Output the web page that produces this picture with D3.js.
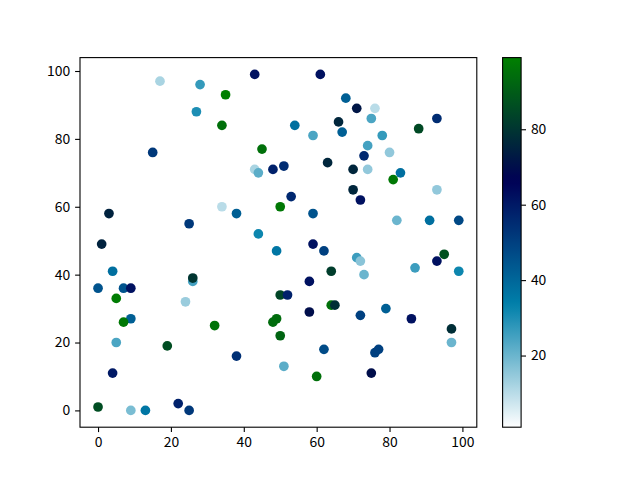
<!DOCTYPE html>
<html>
<head>
<meta charset="utf-8">
<script src="https://cdn.jsdelivr.net/npm/d3@7"></script>
<style>
  body { margin: 0; background: #fff; }
  text { font-family: "Noto Sans CJK SC", "Liberation Sans", sans-serif; font-size: 13.9px; fill: #000; }
</style>
</head>
<body>
<svg id="chart"></svg>
<script>
// data
const xs = [17, 28, 27, 15, 3, 20, 25, 1, 34, 43, 61, 35, 68, 34, 54, 59, 66, 67, 45, 43,
  44, 48, 51, 63, 53, 50, 38, 59, 44, 59, 71, 76, 75, 93, 88, 78, 74, 73, 80, 70,
  74, 83, 81, 93, 70, 72, 82, 91, 99, 4, 0, 7, 9, 5, 26, 26, 24, 9, 7, 32,
  5, 19, 4, 0, 9, 13, 22, 25, 49, 62, 64, 58, 50, 52, 64, 65, 58, 49, 48, 50,
  62, 38, 51, 60, 71, 72, 73, 87, 93, 95, 99, 79, 72, 86, 97, 97, 76, 77, 75]
const ys = [97, 96, 88, 76, 58, 59, 55, 49, 60, 99, 99, 93, 92, 84, 84, 81, 85, 82, 77, 71,
  70, 71, 72, 73, 63, 60, 58, 58, 52, 49, 89, 89, 86, 86, 83, 81, 78, 75, 76, 71,
  71, 70, 68, 65, 65, 62, 56, 56, 56, 41, 36, 36, 36, 33, 38, 39, 32, 27, 26, 25,
  20, 19, 11, 1, 0, 0, 2, 0, 47, 47, 41, 38, 34, 34, 31, 31, 29, 27, 26, 22,
  18, 16, 13, 10, 45, 44, 40, 42, 44, 46, 41, 30, 28, 27, 24, 20, 17, 18, 11]
const cs = [12, 27, 30, 52, 75, 1, 52, 75, 10, 62, 62, 99, 42, 95, 38, 24, 76, 42, 95, 12,
  22, 58, 55, 76, 56, 97, 42, 45, 32, 62, 72, 10, 24, 55, 85, 27, 25, 56, 15, 76,
  15, 38, 97, 15, 76, 62, 20, 38, 48, 38, 45, 45, 62, 98, 25, 80, 14, 42, 97, 96,
  24, 86, 60, 86, 18, 36, 58, 52, 36, 50, 82, 62, 84, 58, 95, 78, 70, 94, 94, 92,
  47, 54, 22, 95, 26, 16, 20, 26, 62, 87, 32, 42, 50, 62, 78, 20, 50, 50, 70]
const xTicks = [0, 20, 40, 60, 80, 100]
const yTicks = [0, 20, 40, 60, 80, 100]
const cTicks = [20, 40, 60, 80]

const width = 640
const height = 480
const ax = { left: 80, right: 476.8, top: 57.6, bottom: 427.2 }
const cb = { left: 502.6, right: 521.1 }

// matplotlib "ocean_r"
const clip = v => Math.max(0, Math.min(1, v))
const oceanR = t => {
  const s = 1 - t
  return d3.rgb(clip(3 * s - 2) * 255, clip(Math.abs((3 * s - 1) / 2)) * 255, s * 255)
}

const pad = ext => {
  const m = (ext[1] - ext[0]) * 0.05
  return [ext[0] - m, ext[1] + m]
}

const x = d3.scaleLinear().domain(pad(d3.extent(xs))).range([ax.left, ax.right])
const y = d3.scaleLinear().domain(pad(d3.extent(ys))).range([ax.bottom, ax.top])
const color = d3.scaleSequential(oceanR).domain(d3.extent(cs))
const cy = d3.scaleLinear().domain(d3.extent(cs)).range([ax.bottom, ax.top])

const svg = d3.select("#chart")
  .attr("width", width)
  .attr("height", height)

const points = xs.map((d, i) => ({ x: d, y: ys[i], c: cs[i] }))

svg.append("g")
  .selectAll("circle")
  .data(points)
  .enter().append("circle")
  .attr("cx", d => x(d.x))
  .attr("cy", d => y(d.y))
  .attr("r", 4.85)
  .style("fill", d => color(d.c))

svg.append("rect")
  .attr("x", ax.left)
  .attr("y", ax.top)
  .attr("width", ax.right - ax.left)
  .attr("height", ax.bottom - ax.top)
  .style("fill", "none")
  .style("stroke", "#000")
  .style("stroke-width", 1.1)

const xAxis = svg.append("g")
  .attr("transform", "translate(0," + ax.bottom + ")")
  .call(d3.axisBottom(x).tickValues(xTicks).tickSize(4.9).tickPadding(4.9))
const yAxis = svg.append("g")
  .attr("transform", "translate(" + ax.left + ",0)")
  .call(d3.axisLeft(y).tickValues(yTicks).tickSize(4.9).tickPadding(4.9))

// colorbar
const defs = svg.append("defs")
const grad = defs.append("linearGradient")
  .attr("id", "cbar")
  .attr("x1", 0).attr("y1", 1).attr("x2", 0).attr("y2", 0)
grad.selectAll("stop")
  .data(d3.range(0, 1.0001, 0.02))
  .enter().append("stop")
  .attr("offset", d => d)
  .attr("stop-color", d => oceanR(d))

svg.append("rect")
  .attr("x", cb.left)
  .attr("y", ax.top)
  .attr("width", cb.right - cb.left)
  .attr("height", ax.bottom - ax.top)
  .style("fill", "url(#cbar)")
  .style("stroke", "#000")
  .style("stroke-width", 1.1)

const cAxis = svg.append("g")
  .attr("transform", "translate(" + cb.right + ",0)")
  .call(d3.axisRight(cy).tickValues(cTicks).tickSize(4.9).tickPadding(4.9))

for (const g of [xAxis, yAxis, cAxis]) {
  g.select(".domain").remove()
  g.attr("font-family", null).attr("font-size", null)
  g.selectAll("line").style("stroke-width", 1.1)
}
</script>
</body>
</html>
